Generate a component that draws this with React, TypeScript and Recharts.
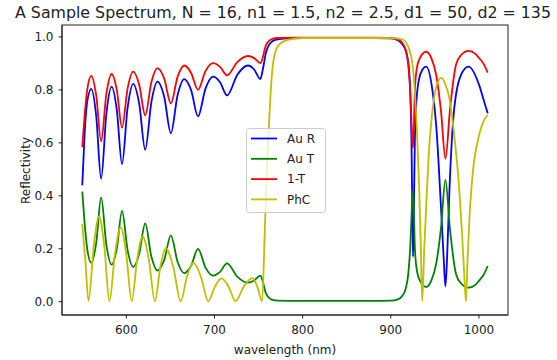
import { LineChart, Line, XAxis, YAxis, Legend, Customized } from 'recharts'

// wavelength (nm) samples and values
const auRWl = [550, 552.6, 555.6, 560.2, 565.8, 571.4, 577.3, 583.3, 589.2, 595.1, 601.4, 607.8, 614.6, 621.4, 628.4, 635.4, 643, 650.5, 658.1, 665.7, 673.5, 681.3, 689.8, 698.4, 706.3, 714.2, 726.1, 738, 745, 752, 755, 758, 763, 770, 782, 800, 880, 900, 908, 913, 917, 920, 922, 923.5, 924.6, 925.3, 926.2, 927.3, 929, 932, 936, 940.2, 947.6, 951.5, 957, 960, 962, 963.9, 966.5, 972, 979.7, 988.3, 1000.3, 1006, 1010]
const auR = [0.44, 0.63, 0.755, 0.804, 0.702, 0.464, 0.708, 0.812, 0.724, 0.52, 0.732, 0.823, 0.748, 0.574, 0.754, 0.831, 0.773, 0.636, 0.78, 0.841, 0.799, 0.70, 0.805, 0.85, 0.829, 0.779, 0.858, 0.892, 0.877, 0.841, 0.88, 0.935, 0.975, 0.99, 0.995, 0.996, 0.996, 0.995, 0.988, 0.972, 0.948, 0.9, 0.8, 0.6, 0.3, 0.17, 0.35, 0.6, 0.75, 0.84, 0.877, 0.888, 0.79, 0.668, 0.355, 0.166, 0.058, 0.166, 0.416, 0.73, 0.857, 0.888, 0.818, 0.755, 0.712]

const tWl = [550, 552.6, 555.6, 560.2, 565.8, 571.4, 577.3, 583.3, 589.2, 595.1, 601.4, 607.8, 614.6, 621.4, 628.4, 635.4, 643, 650.5, 658.1, 665.7, 673.5, 681.3, 689.8, 698.4, 706.3, 714.2, 726.1, 738, 745, 752, 755, 757.7, 761, 765, 772, 800, 880, 900, 908, 913, 917, 920, 922.3, 924, 925, 926, 927.4, 929.5, 933, 940.2, 946, 951.5, 957, 962, 967.3, 974, 980, 988.3, 996, 1000.3, 1005, 1010]
const auT = [0.416, 0.30, 0.20, 0.147, 0.221, 0.394, 0.216, 0.14, 0.201, 0.343, 0.195, 0.131, 0.181, 0.296, 0.171, 0.118, 0.158, 0.251, 0.151, 0.108, 0.136, 0.20, 0.129, 0.099, 0.113, 0.145, 0.094, 0.072, 0.080, 0.099, 0.075, 0.038, 0.018, 0.008, 0.004, 0.003, 0.003, 0.004, 0.009, 0.022, 0.05, 0.11, 0.22, 0.36, 0.42, 0.36, 0.2, 0.12, 0.08, 0.056, 0.08, 0.143, 0.28, 0.46, 0.27, 0.105, 0.068, 0.053, 0.064, 0.08, 0.1, 0.135]
const oneMinusT = [0.584, 0.70, 0.80, 0.853, 0.779, 0.606, 0.784, 0.86, 0.799, 0.657, 0.805, 0.869, 0.819, 0.704, 0.829, 0.882, 0.842, 0.749, 0.849, 0.892, 0.864, 0.80, 0.871, 0.901, 0.887, 0.855, 0.906, 0.928, 0.92, 0.901, 0.925, 0.962, 0.982, 0.992, 0.996, 0.997, 0.997, 0.996, 0.991, 0.978, 0.95, 0.89, 0.78, 0.64, 0.58, 0.64, 0.8, 0.88, 0.92, 0.944, 0.92, 0.857, 0.72, 0.54, 0.73, 0.895, 0.932, 0.947, 0.936, 0.92, 0.9, 0.865]

const phcWl = [550, 553.4, 557.1, 563, 569, 575, 580.8, 587.2, 593.6, 599.8, 606.1, 612.3, 618.5, 625.5, 632.4, 638.6, 644.8, 653.2, 661.7, 668.9, 676, 684.5, 693, 700.5, 708, 716, 723.8, 733.4, 743, 748.5, 754, 757.3, 759.5, 761.8, 764.5, 767.4, 773, 784, 800, 880, 905, 913.8, 921.3, 924.5, 927, 929.5, 932, 934, 935.7, 938, 940.2, 943, 946, 951.5, 957.5, 962, 966.5, 972, 977.8, 981, 983.4, 985.3, 987.2, 989.5, 992.8, 1000.3, 1005, 1010]
const phc = [0.293, 0.16, 0.003, 0.21, 0.322, 0.21, 0.002, 0.183, 0.281, 0.183, 0.002, 0.16, 0.247, 0.16, 0.002, 0.132, 0.203, 0.132, 0.002, 0.096, 0.148, 0.096, 0.002, 0.057, 0.088, 0.057, 0.002, 0.058, 0.089, 0.058, 0.002, 0.29, 0.5, 0.668, 0.83, 0.92, 0.97, 0.99, 0.996, 0.996, 0.995, 0.99, 0.95, 0.9, 0.81, 0.66, 0.45, 0.22, 0.002, 0.2, 0.36, 0.55, 0.68, 0.81, 0.845, 0.82, 0.768, 0.63, 0.42, 0.25, 0.1, 0.002, 0.166, 0.33, 0.478, 0.63, 0.68, 0.706]

const xTicks = [600, 700, 800, 900, 1000]
const yTicks = [0, 0.2, 0.4, 0.6, 0.8, 1.0]

const zip = (xs: number[], ys: number[]) =>
  xs.slice(0, Math.min(xs.length, ys.length)).map((wl, i) => ({ wl, v: ys[i] }))

const series = [
  { name: 'Au R', color: '#0000ff', data: zip(auRWl, auR) },
  { name: 'Au T', color: '#008000', data: zip(tWl, auT) },
  { name: '1-T', color: '#ff0000', data: zip(tWl, oneMinusT) },
  { name: 'PhC', color: '#bfbf00', data: zip(phcWl, phc) },
]

const font = 'DejaVu Sans'
const ink = '#222'
const tickStyle = { fontSize: 12, fill: ink, fontFamily: font }

// legend keeps the plotting order of the series
function LegendBox() {
  return (
    <svg width={81} height={86} style={{ display: 'block' }}>
      <rect x={0.5} y={0.5} width={79} height={84} rx={3} fill="rgba(255,255,255,0.8)" stroke="#cccccc" />
      {series.map((s, i) => {
        const cy = 10.5 + i * 20.3
        return (
          <g key={s.name}>
            <line x1={5} x2={31} y1={cy} y2={cy} stroke={s.color} strokeWidth={1.8} />
            <text x={41} y={cy + 4.3} fontSize={12} fontFamily={font} fill={ink}>{s.name}</text>
          </g>
        )
      })}
    </svg>
  )
}

function Texts() {
  return (
    <g fontFamily={font} fill={ink}>
      <rect x={62} y={25} width={446} height={290} fill="none" stroke={ink} strokeWidth={1} />
      <text x={283} y={18} textAnchor="middle" fontSize={15.8}>
        A Sample Spectrum, N = 16, n1 = 1.5, n2 = 2.5, d1 = 50, d2 = 135
      </text>
      <text x={285} y={353.5} textAnchor="middle" fontSize={12}>wavelength (nm)</text>
      <text transform="translate(29.5,170.5) rotate(-90)" textAnchor="middle" fontSize={12}>Reflectivity</text>
    </g>
  )
}

export default function App() {
  return (
    <div style={{ position: 'absolute', left: 0, top: 0, background: '#fff' }}>
      <LineChart width={557} height={360} margin={{ top: 25, right: 49, bottom: 0, left: 0 }}>
        <XAxis
          type="number"
          dataKey="wl"
          domain={[527, 1033]}
          ticks={xTicks}
          allowDataOverflow
          height={45}
          tick={tickStyle}
          tickSize={3.5}
          tickMargin={7}
          tickLine={{ stroke: ink }}
          axisLine={{ stroke: ink }}
        />
        <YAxis
          type="number"
          domain={[-0.05, 1.045]}
          ticks={yTicks}
          allowDataOverflow
          width={62}
          tick={tickStyle}
          tickFormatter={(v: number) => v.toFixed(1)}
          tickSize={3.5}
          tickMargin={5}
          tickLine={{ stroke: ink }}
          axisLine={{ stroke: ink }}
        />
        {series.map((s) => (
          <Line
            key={s.name}
            name={s.name}
            data={s.data}
            dataKey="v"
            type="monotone"
            stroke={s.color}
            strokeWidth={1.8}
            dot={false}
            activeDot={false}
            isAnimationActive={false}
          />
        ))}
        <Legend
          layout="horizontal"
          align="center"
          verticalAlign="middle"
          content={<LegendBox />}
          wrapperStyle={{ left: 246, top: 128, width: 81, height: 86 }}
        />
        <Customized component={<Texts />} />
      </LineChart>
    </div>
  )
}
